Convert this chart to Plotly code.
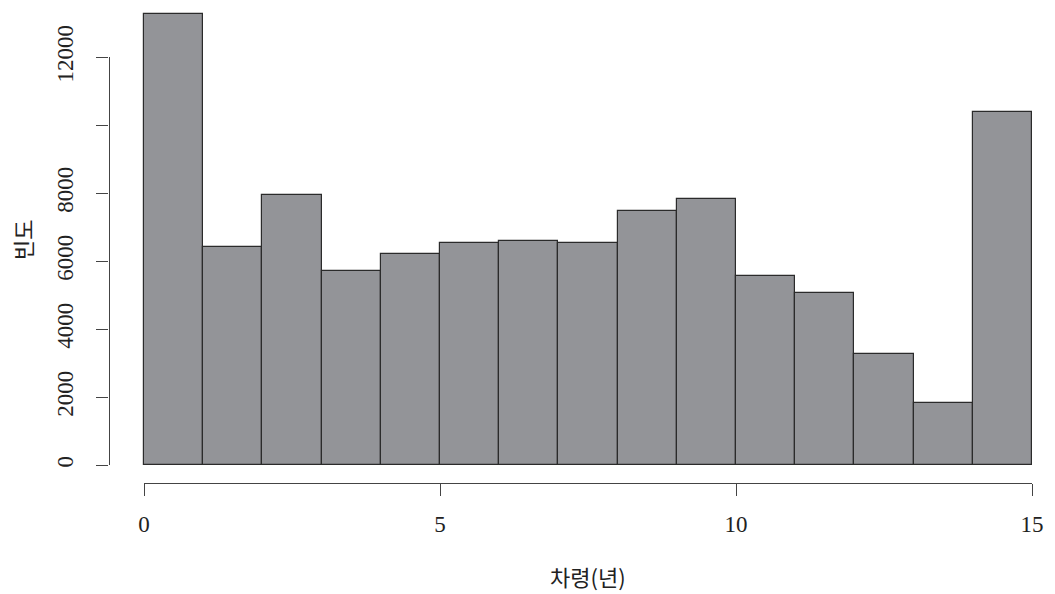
import plotly.graph_objects as go

bin_left = list(range(15))
counts = [13280, 6420, 7960, 5715, 6225, 6530, 6605, 6530, 7490, 7825, 5575, 5075, 3280, 1840, 10385]
x_ticks = [0, 5, 10, 15]
y_ticks = [0, 2000, 4000, 6000, 8000, 10000, 12000]
y_tick_text = ["0", "2000", "4000", "6000", "8000", "", "12000"]
x_title = "차령(년)"
y_title = "빈도"

W, H = 1055, 594
px_per_x = (1032 - 144) / 15.0
px_per_y = (465.3 - 57.3) / 12000.0

x_range = [-144 / px_per_x, 15 + (W - 1032) / px_per_x]
y_range = [(465.3 - H) / px_per_y, 465.3 / px_per_y]

fig = go.Figure()
fig.add_trace(go.Bar(
    x=[b + 0.5 for b in bin_left], y=counts, width=1,
    marker=dict(color="#939498", line=dict(color="#2b2b2b", width=1.2)),
    xaxis="x", yaxis="y", hoverinfo="x+y", showlegend=False,
))
# dummy trace for visible axes
fig.add_trace(go.Scatter(x=[0], y=[0], xaxis="x2", yaxis="y2", mode="markers",
                         marker=dict(opacity=0), hoverinfo="skip", showlegend=False))

serif = "Liberation Serif, Times New Roman, serif"
fig.update_layout(
    width=W, height=H, autosize=False,
    margin=dict(l=0, r=0, t=0, b=0, pad=0, autoexpand=False),
    showlegend=False,
    plot_bgcolor="rgba(0,0,0,0)", paper_bgcolor="white",
    bargap=0,
    xaxis=dict(domain=[0, 1], range=x_range, visible=False, fixedrange=True, automargin=False),
    yaxis=dict(domain=[0, 1], range=y_range, visible=False, fixedrange=True, automargin=False),
    xaxis2=dict(domain=[144 / W, 1032 / W], range=[0, 15], anchor="free",
                position=(H - 483.3) / H, automargin=False,
                tickvals=x_ticks, ticktext=[str(v) for v in x_ticks],
                ticks="outside", ticklen=12, tickcolor="#444", tickwidth=1.2,
                showline=True, linecolor="#444", linewidth=1.2,
                showgrid=False, zeroline=False, ticklabelstandoff=8,
                tickfont=dict(family=serif, size=23, color="#222")),
    yaxis2=dict(domain=[(H - 465.3) / H, (H - 57.3) / H], range=[0, 12000],
                anchor="free", position=108.5 / W, automargin=False,
                tickvals=y_ticks, ticktext=y_tick_text, tickangle=-90,
                ticks="outside", ticklen=12, tickcolor="#444", tickwidth=1.2,
                showline=True, linecolor="#444", linewidth=1.2,
                showgrid=False, zeroline=False, ticklabelstandoff=14,
                tickfont=dict(family=serif, size=23, color="#222")),
    annotations=[
        dict(text=x_title, x=588 / W, y=(H - 576) / H, xref="paper", yref="paper",
             showarrow=False, xanchor="center", yanchor="middle",
             font=dict(family="Noto Sans CJK KR, Noto Sans", size=22, color="#222")),
        dict(text=y_title, x=22 / W, y=(H - 240) / H, xref="paper", yref="paper",
             showarrow=False, xanchor="center", yanchor="middle", textangle=-90,
             font=dict(family="Noto Sans CJK KR, Noto Sans", size=22, color="#222")),
    ],
)
fig.write_html("out.html")
